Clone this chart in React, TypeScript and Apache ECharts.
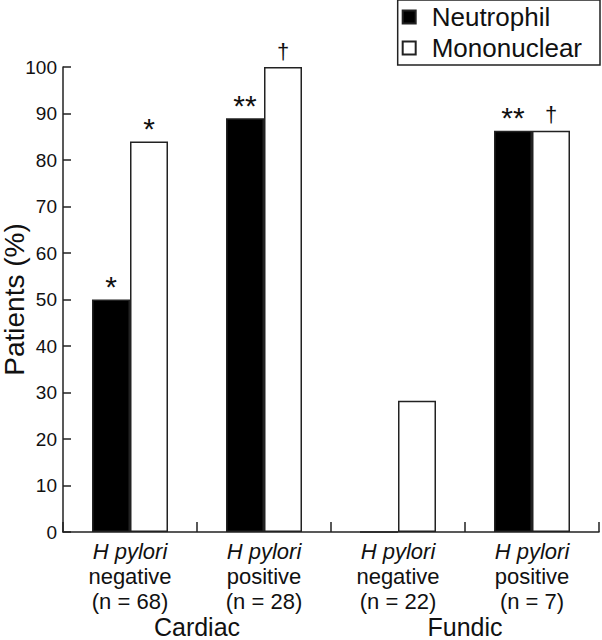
import React, { useEffect, useRef } from "react";
import * as echarts from "echarts";

const categories = ["neg68", "pos28", "neg22", "pos7"];
const categoryLines = [
  ["H pylori", "negative", "(n = 68)"],
  ["H pylori", "positive", "(n = 28)"],
  ["H pylori", "negative", "(n = 22)"],
  ["H pylori", "positive", "(n = 7)"],
];
const groups = ["Cardiac", "Fundic"];
const neutrophil = [50, 89, 0, 86.3];
const mononuclear = [84, 100, 28.2, 86.3];
const neutrophilMarks = ["*", "**", "", "**"];
const mononuclearMarks = ["*", "\u2020", "", "\u2020"];
const yTicks = { min: 0, max: 100, interval: 10 };

const FONT = "Liberation Sans, Arial, Helvetica, sans-serif";

const markItemLabel = (mark: string) => {
  const isDagger = mark === "\u2020";
  return {
    show: mark !== "",
    position: "top",
    distance: isDagger ? 5 : -2,
    fontSize: isDagger ? 22 : 30,
    lineHeight: isDagger ? 22 : 30,
    fontFamily: FONT,
    color: "#111",
    formatter: mark,
  };
};

export default function App() {
  const ref = useRef<HTMLDivElement>(null);
  useEffect(() => {
    document.body.style.margin = "0";
    const chart = echarts.init(ref.current!, null, { renderer: "svg" });
    const build = (values: number[], marks: string[]) =>
      values.map((v, i) => ({ value: v, label: markItemLabel(marks[i]) }));
    chart.setOption({
      animation: false,
      backgroundColor: "#fff",
      textStyle: { fontFamily: FONT, color: "#111" },
      grid: { left: 63, right: 3, top: 67, bottom: 108, containLabel: false, outerBoundsMode: "none" },
      legend: {
        orient: "vertical",
        right: 2,
        top: 0,
        padding: [4, 18, 4, 4],
        itemGap: 5,
        itemWidth: 35,
        itemHeight: 13,
        icon: "path://M0,0H10V10H0Z",
        borderColor: "#222",
        borderWidth: 1.5,
        textStyle: { fontSize: 26, lineHeight: 26, fontFamily: FONT, color: "#111" },
        data: ["Neutrophil", "Mononuclear"],
      },
      xAxis: [
        {
          type: "category",
          data: categories,
          position: "bottom",
          boundaryGap: true,
          axisLine: { show: true, lineStyle: { color: "#222", width: 1.5 } },
          axisTick: { show: true, inside: true, length: 10, interval: 0, lineStyle: { color: "#222", width: 1.5 } },
          axisLabel: {
            interval: 0,
            margin: 7,
            fontSize: 22,
            lineHeight: 25,
            color: "#111",
            fontFamily: FONT,
            formatter: (_v: string, i: number) => {
              const l = categoryLines[i];
              return `{it|${l[0]}}\n${l[1]}\n${l[2]}`;
            },
            rich: {
              it: { fontStyle: "italic", fontSize: 22, lineHeight: 25, fontFamily: FONT, color: "#111" },
            },
          },
        },
        {
          type: "category",
          data: groups,
          position: "bottom",
          axisLine: { show: false },
          axisTick: { show: false },
          axisLabel: { interval: 0, margin: 83, fontSize: 25, lineHeight: 24, color: "#111", fontFamily: FONT },
        },
      ],
      yAxis: {
        type: "value",
        min: yTicks.min,
        max: yTicks.max,
        interval: yTicks.interval,
        name: "Patients (%)",
        nameLocation: "middle",
        nameGap: 37,
        nameMoveOverlap: false,
        nameTextStyle: { fontSize: 28, lineHeight: 24, color: "#111", fontFamily: FONT },
        splitLine: { show: false },
        axisLine: { show: true, lineStyle: { color: "#222", width: 1.5 } },
        axisTick: { show: true, inside: true, length: 8, lineStyle: { color: "#222", width: 1.5 } },
        axisLabel: { margin: 6, fontSize: 19, color: "#111", fontFamily: FONT },
      },
      series: [
        {
          name: "Neutrophil",
          type: "bar",
          xAxisIndex: 0,
          data: build(neutrophil, neutrophilMarks),
          barWidth: 38,
          barGap: "0%",
          itemStyle: { color: "#000", borderColor: "#222", borderWidth: 1.5 },
        },
        {
          name: "Mononuclear",
          type: "bar",
          xAxisIndex: 0,
          data: build(mononuclear, mononuclearMarks),
          barWidth: 38,
          barGap: "0%",
          itemStyle: { color: "#fff", borderColor: "#222", borderWidth: 1.5 },
        },
      ],
    });
    return () => chart.dispose();
  }, []);
  return <div ref={ref} style={{ width: 602, height: 640 }} />;
}
